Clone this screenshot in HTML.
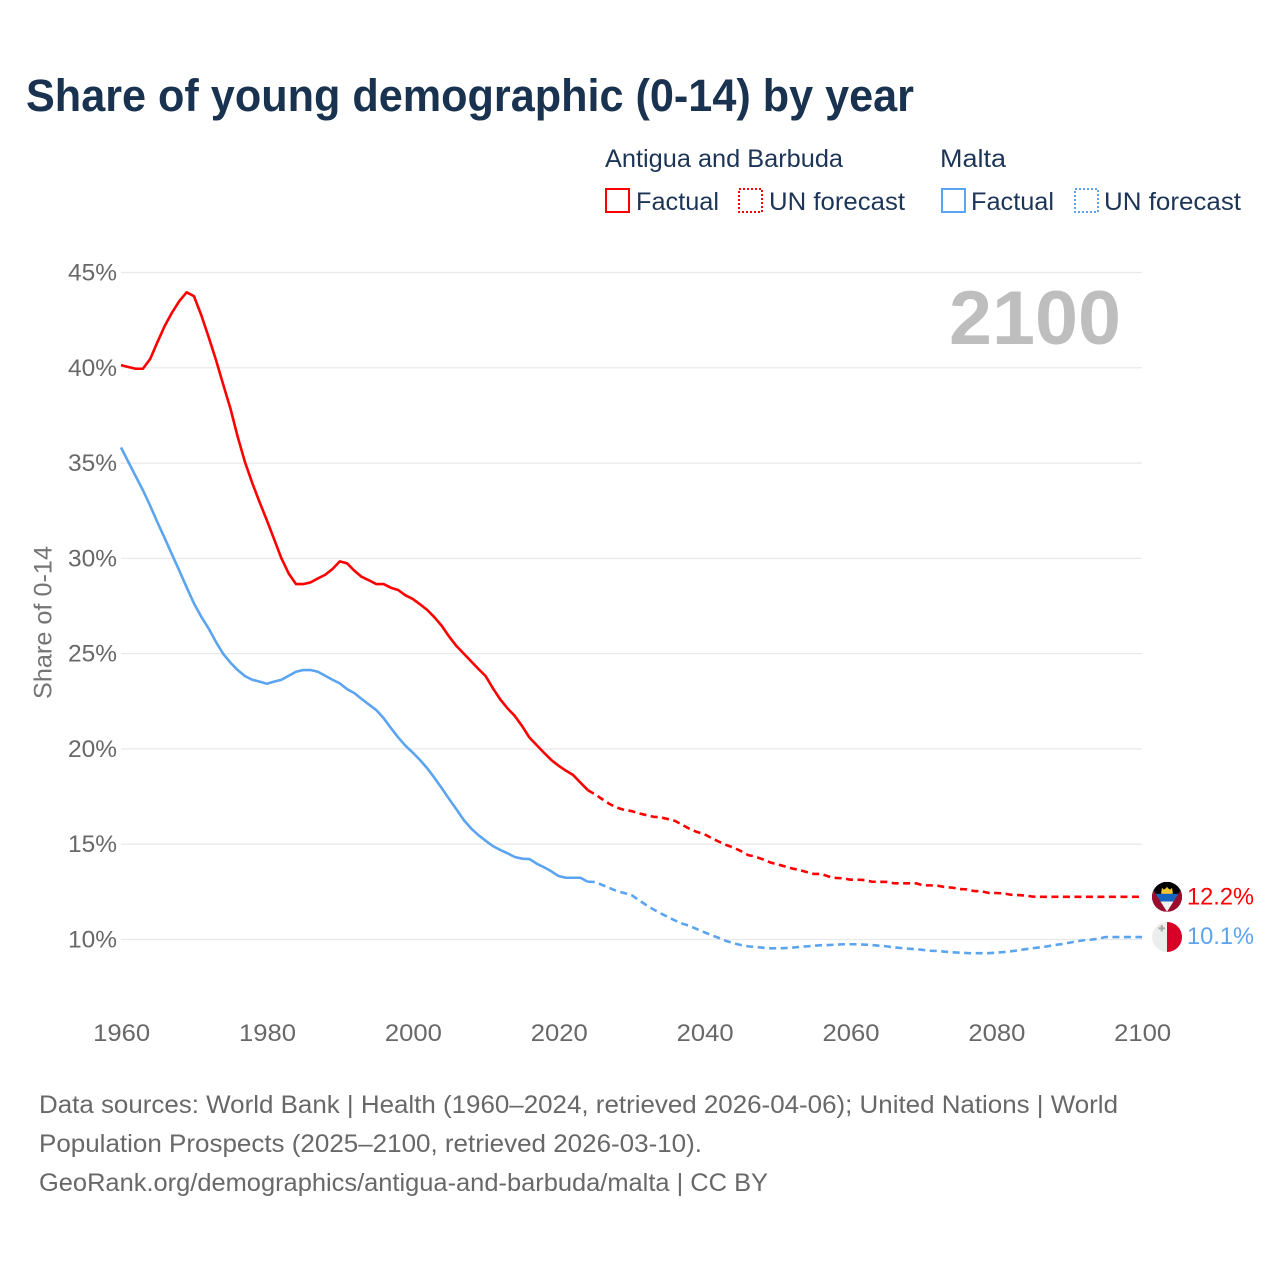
<!DOCTYPE html>
<html lang="en">
<head>
<meta charset="utf-8">
<title>Share of young demographic (0-14) by year</title>
<style>
html,body{margin:0;padding:0;background:#fff;}
svg{display:block;font-family:"Liberation Sans",sans-serif;}
.legend-text{font-size:25px;fill:#1c3557;}
.source{font-size:25px;fill:#686868;}
</style>
</head>
<body>
<svg id="chart" xmlns="http://www.w3.org/2000/svg" width="1280" height="1280" viewBox="0 0 1280 1280">
  <defs>
    <clipPath id="flag-clip-ag"><circle cx="0" cy="0" r="15"/></clipPath>
    <clipPath id="flag-clip-mt"><circle cx="0" cy="0" r="15"/></clipPath>
  </defs>
  <rect x="0" y="0" width="1280" height="1280" fill="#ffffff"/>

  <text x="26" y="111" font-size="45" font-weight="700" fill="#18324f" textLength="888" lengthAdjust="spacingAndGlyphs">Share of young demographic (0-14) by year</text>

  <g>
    <text class="legend-text" x="605" y="167" textLength="238" lengthAdjust="spacingAndGlyphs">Antigua and Barbuda</text>
    <text class="legend-text" x="940" y="167" textLength="66" lengthAdjust="spacingAndGlyphs">Malta</text>
    <rect x="606" y="189" width="23" height="23" fill="none" stroke="#ff0000" stroke-width="2"/>
    <text class="legend-text" x="636" y="210" textLength="83" lengthAdjust="spacingAndGlyphs">Factual</text>
    <rect x="739" y="189" width="23" height="23" fill="none" stroke="#ff0000" stroke-width="2" stroke-dasharray="2 2"/>
    <text class="legend-text" x="769" y="210" textLength="136" lengthAdjust="spacingAndGlyphs">UN forecast</text>
    <rect x="942" y="189" width="23" height="23" fill="none" stroke="#5ba4f0" stroke-width="2"/>
    <text class="legend-text" x="971" y="210" textLength="83" lengthAdjust="spacingAndGlyphs">Factual</text>
    <rect x="1075" y="189" width="23" height="23" fill="none" stroke="#5ba4f0" stroke-width="2" stroke-dasharray="2 2"/>
    <text class="legend-text" x="1104" y="210" textLength="137" lengthAdjust="spacingAndGlyphs">UN forecast</text>
  </g>

  <g id="grid"></g>
  <g id="y-ticks"></g>
  <g id="x-ticks"></g>

  <text transform="translate(51.5 699) rotate(-90)" x="0" y="0" font-size="25" fill="#757575" textLength="153" lengthAdjust="spacingAndGlyphs">Share of 0-14</text>

  <text x="949" y="344" font-size="76" font-weight="700" fill="#bebebe" textLength="172" lengthAdjust="spacingAndGlyphs">2100</text>

  <g id="series"></g>

  <g id="flag-ag">
    <g clip-path="url(#flag-clip-ag)">
      <rect x="-15" y="-15" width="30" height="30" fill="#000000"/>
      <circle cx="0" cy="-4" r="4.5" fill="#f4c430"/>
      <polygon points="-6,-3 -5,-9 -2.5,-6.5 0,-10 2.5,-6.5 5,-9 6,-3" fill="#f4c430"/>
      <rect x="-15" y="-3" width="30" height="7.7" fill="#1565c0"/>
      <polygon points="-15,4.7 15,4.7 0,15" fill="#f2f2f2"/>
      <polygon points="-19,-15 0,15 -19,15" fill="#9c0d2c"/>
      <polygon points="19,-15 0,15 19,15" fill="#9c0d2c"/>
    </g>
  </g>
  <g id="flag-mt">
    <g clip-path="url(#flag-clip-mt)">
      <rect x="-15" y="-15" width="15" height="30" fill="#ededed"/>
      <rect x="0" y="-15" width="15" height="30" fill="#d80027"/>
      <rect x="-8.5" y="-9.7" width="6.4" height="2" fill="#a8a8a8"/>
      <rect x="-6.3" y="-11.9" width="2" height="6.4" fill="#a8a8a8"/>
    </g>
  </g>

  <g id="end-labels"></g>

  <g>
    <text class="source" x="39" y="1113" textLength="1079" lengthAdjust="spacingAndGlyphs">Data sources: World Bank | Health (1960–2024, retrieved 2026-04-06); United Nations | World</text>
    <text class="source" x="39" y="1152" textLength="663" lengthAdjust="spacingAndGlyphs">Population Prospects (2025–2100, retrieved 2026-03-10).</text>
    <text class="source" x="39" y="1191" textLength="729" lengthAdjust="spacingAndGlyphs">GeoRank.org/demographics/antigua-and-barbuda/malta | CC BY</text>
  </g>
</svg>
<script>
const firstYear = 1960;
const lastFactualYear = 2024;
const yTickValues = [10, 15, 20, 25, 30, 35, 40, 45];
const yTickLabels = ["10%", "15%", "20%", "25%", "30%", "35%", "40%", "45%"];
const xTickValues = [1960, 1980, 2000, 2020, 2040, 2060, 2080, 2100];
const xTickLabels = ["1960", "1980", "2000", "2020", "2040", "2060", "2080", "2100"];
const antiguaValues = [
  40.14,40.04,39.95,39.95,40.46,41.35,42.2,42.9,43.5,43.96,
  43.76,42.77,41.63,40.44,39.14,37.87,36.38,35.05,33.95,32.95,
  32.0,31.0,30.0,29.2,28.65,28.65,28.74,28.95,29.14,29.44,
  29.84,29.74,29.35,29.03,28.85,28.65,28.65,28.46,28.34,28.06,
  27.87,27.59,27.29,26.9,26.45,25.89,25.4,25.0,24.6,24.2,
  23.82,23.18,22.6,22.13,21.73,21.2,20.6,20.2,19.8,19.42,
  19.12,18.86,18.63,18.23,17.84,17.62,17.36,17.11,16.92,16.8,
  16.74,16.62,16.53,16.44,16.41,16.32,16.22,16.01,15.8,15.64,
  15.52,15.32,15.13,14.96,14.82,14.64,14.43,14.34,14.21,14.05,
  13.94,13.84,13.73,13.65,13.54,13.44,13.44,13.31,13.23,13.21,
  13.14,13.14,13.12,13.03,13.03,13.02,12.95,12.95,12.95,12.95,
  12.84,12.84,12.82,12.75,12.72,12.65,12.63,12.54,12.53,12.44,
  12.44,12.42,12.35,12.33,12.31,12.25,12.24,12.24,12.24,12.24,
  12.24,12.24,12.24,12.24,12.24,12.24,12.24,12.24,12.24,12.24,
  12.24
];
const maltaValues = [
  35.82,35.07,34.32,33.58,32.76,31.89,31.05,30.2,29.35,28.48,
  27.64,26.94,26.33,25.63,25.0,24.53,24.14,23.82,23.63,23.53,
  23.42,23.53,23.63,23.84,24.05,24.14,24.14,24.05,23.84,23.63,
  23.44,23.14,22.93,22.62,22.33,22.04,21.62,21.1,20.61,20.17,
  19.81,19.42,18.98,18.47,17.93,17.37,16.83,16.27,15.83,15.48,
  15.18,14.9,14.7,14.52,14.33,14.24,14.22,13.98,13.79,13.58,
  13.33,13.24,13.24,13.24,13.03,13.02,12.86,12.7,12.54,12.44,
  12.33,12.07,11.81,11.58,11.37,11.18,10.99,10.83,10.71,10.54,
  10.38,10.22,10.08,9.92,9.8,9.71,9.64,9.61,9.57,9.54,
  9.54,9.55,9.57,9.61,9.64,9.67,9.7,9.71,9.73,9.75,
  9.75,9.75,9.73,9.71,9.67,9.64,9.59,9.55,9.52,9.49,
  9.45,9.41,9.4,9.36,9.33,9.31,9.29,9.28,9.28,9.28,
  9.31,9.34,9.38,9.43,9.49,9.54,9.59,9.64,9.71,9.76,
  9.83,9.9,9.96,9.99,10.04,10.13,10.13,10.13,10.13,10.13,
  10.13
];
const antiguaEndLabel = "12.2%";
const maltaEndLabel = "10.1%";

const NS = "http://www.w3.org/2000/svg";
const RED = "#ff0000";
const BLUE = "#5ba4f0";

function xScale(year) { return 121 + (year - 1960) * (1021 / 140); }
function yScale(value) { return 939.5 - (value - 10) * (667 / 35); }

function makeText(parent, content, x, y, size, fill, anchor, width) {
  const t = document.createElementNS(NS, "text");
  t.setAttribute("x", x);
  t.setAttribute("y", y);
  t.setAttribute("font-size", size);
  t.setAttribute("fill", fill);
  t.setAttribute("text-anchor", anchor);
  t.setAttribute("textLength", width);
  t.setAttribute("lengthAdjust", "spacingAndGlyphs");
  t.textContent = content;
  parent.appendChild(t);
  return t;
}

function makeLine(parent, values, fromYear, toYear, color, dashed) {
  let d = "";
  for (let i = 0; i < values.length; i++) {
    const year = firstYear + i;
    if (year < fromYear || year > toYear) continue;
    d += (d ? "L" : "M") + xScale(year).toFixed(2) + " " + yScale(values[i]).toFixed(2);
  }
  const p = document.createElementNS(NS, "path");
  p.setAttribute("d", d);
  p.setAttribute("fill", "none");
  p.setAttribute("stroke", color);
  p.setAttribute("stroke-width", "2.6");
  p.setAttribute("stroke-linejoin", "round");
  if (dashed) p.setAttribute("stroke-dasharray", "7 4.5");
  parent.appendChild(p);
  return p;
}

const gridGroup = document.getElementById("grid");
const yTickGroup = document.getElementById("y-ticks");
yTickValues.forEach(function (v, i) {
  const y = yScale(v);
  const line = document.createElementNS(NS, "line");
  line.setAttribute("x1", 121);
  line.setAttribute("x2", 1142);
  line.setAttribute("y1", y);
  line.setAttribute("y2", y);
  line.setAttribute("stroke", "#e9e9e9");
  line.setAttribute("stroke-width", "1.3");
  
  
  gridGroup.appendChild(line);
  const label = makeText(yTickGroup, yTickLabels[i], 117, y + 8, 24, "#686868", "end", 49);
  
  
});

const xTickGroup = document.getElementById("x-ticks");
xTickValues.forEach(function (year, i) {
  const label = makeText(xTickGroup, xTickLabels[i], xScale(year) + 0.7, 1041, 24, "#686868", "middle", 57);
  
  
});

const seriesGroup = document.getElementById("series");
const lastYear = firstYear + antiguaValues.length - 1;

const maltaFactual = makeLine(seriesGroup, maltaValues, firstYear, lastFactualYear, BLUE, false);


const maltaForecast = makeLine(seriesGroup, maltaValues, lastFactualYear, lastYear, BLUE, true);


const antiguaFactual = makeLine(seriesGroup, antiguaValues, firstYear, lastFactualYear, RED, false);


const antiguaForecast = makeLine(seriesGroup, antiguaValues, lastFactualYear, lastYear, RED, true);



const endY1 = yScale(antiguaValues[antiguaValues.length - 1]);
const endY2 = yScale(maltaValues[maltaValues.length - 1]);
document.getElementById("flag-ag").setAttribute("transform", "translate(1167 " + endY1 + ")");
document.getElementById("flag-mt").setAttribute("transform", "translate(1167 " + endY2 + ")");

const endGroup = document.getElementById("end-labels");
const endLabelA = makeText(endGroup, antiguaEndLabel, 1187, endY1 + 7.5, 24, RED, "start", 67);


const endLabelM = makeText(endGroup, maltaEndLabel, 1187, endY2 + 7, 24, BLUE, "start", 67);


</script>
</body>
</html>
